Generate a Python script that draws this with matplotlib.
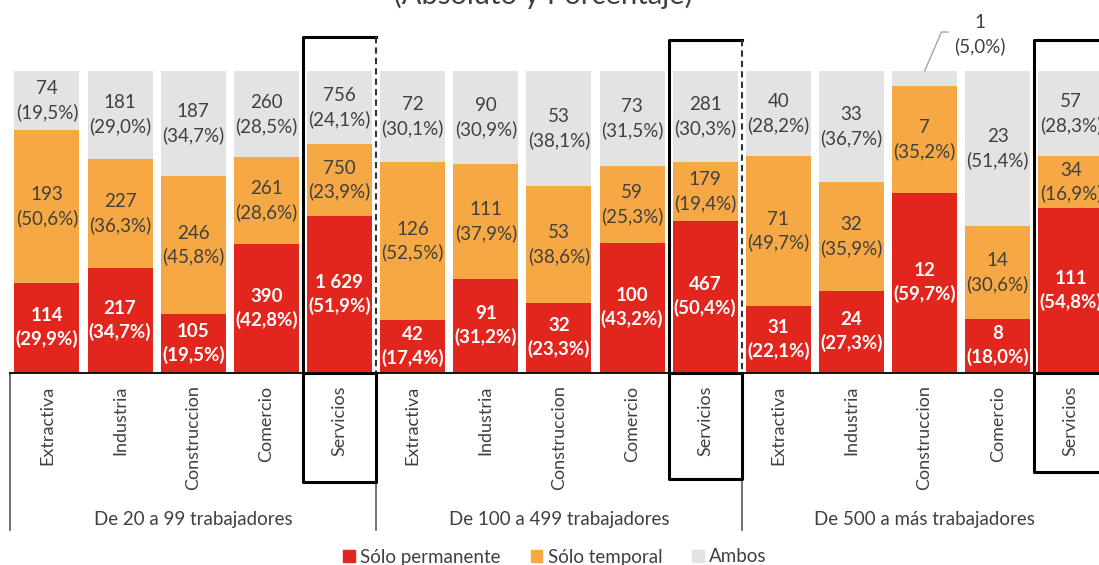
import matplotlib.pyplot as plt
import matplotlib.transforms as mtransforms
from matplotlib.patches import Patch
import numpy as np

plt.rcParams["font.family"] = ["Lato", "DejaVu Sans"]

# data
sectores = ["Extractiva", "Industria", "Construccion", "Comercio", "Servicios"]
grupos = ["De 20 a 99 trabajadores", "De 100 a 499 trabajadores", "De 500 a más trabajadores"]

perm_n = [114, 217, 105, 390, 1629, 42, 91, 32, 100, 467, 31, 24, 12, 8, 111]
perm_pct = [29.9, 34.7, 19.5, 42.8, 51.9, 17.4, 31.2, 23.3, 43.2, 50.4, 22.1, 27.3, 59.7, 18.0, 54.8]
temp_n = [193, 227, 246, 261, 750, 126, 111, 53, 59, 179, 71, 32, 7, 14, 34]
temp_pct = [50.6, 36.3, 45.8, 28.6, 23.9, 52.5, 37.9, 38.6, 25.3, 19.4, 49.7, 35.9, 35.2, 30.6, 16.9]
ambos_n = [74, 181, 187, 260, 756, 72, 90, 53, 73, 281, 40, 33, 1, 23, 57]
ambos_pct = [19.5, 29.0, 34.7, 28.5, 24.1, 30.1, 30.9, 38.1, 31.5, 30.3, 28.2, 36.7, 5.0, 51.4, 28.3]

c_perm = "#E2261E"
c_temp = "#F5A843"
c_ambos = "#E3E3E3"
c_text = "#404040"

W, H = 1099, 565


def fy(px):
    return 1 - px / H


def fmt_n(n):
    return f"{n:,}".replace(",", " ")


def fmt_p(p):
    return f"({p:.1f}%)".replace(".", ",")


fig = plt.figure(figsize=(W / 100, H / 100), dpi=100)
slot = 73.14
ax = fig.add_axes([10.35 / W, fy(373), 15 * slot / W, 302 / H])

x = np.arange(len(perm_n))
perm = np.array(perm_pct)
temp = np.array(temp_pct)
ambos = np.array(ambos_pct)
bw = 0.889
ax.bar(x, perm, bw, color=c_perm)
ax.bar(x, temp, bw, bottom=perm, color=c_temp)
ax.bar(x, ambos, bw, bottom=perm + temp, color=c_ambos)

ax.set_xlim(-0.5, len(x) - 0.5)
ax.set_ylim(0, 100)
for s in ["top", "right", "left"]:
    ax.spines[s].set_visible(False)
ax.spines["bottom"].set_color("black")
ax.spines["bottom"].set_linewidth(1.3)
ax.set_yticks([])
ax.set_xticks(x)
ax.set_xticklabels(sectores * 3, rotation=90, fontsize=13, color=c_text)
ax.tick_params(axis="x", length=0, pad=9)

# labels in segments
lab = dict(ha="center", va="center", fontsize=13.5, linespacing=1.4)
for i in x:
    ax.text(i, perm[i] / 2, fmt_n(perm_n[i]) + "\n" + fmt_p(perm_pct[i]),
            color="white", fontweight="bold", **lab)
    ax.text(i, perm[i] + temp[i] / 2, fmt_n(temp_n[i]) + "\n" + fmt_p(temp_pct[i]),
            color=c_text, **lab)
    if ambos[i] > 8:
        ax.text(i, perm[i] + temp[i] + ambos[i] / 2,
                fmt_n(ambos_n[i]) + "\n" + fmt_p(ambos_pct[i]), color=c_text, **lab)
    else:
        ax.plot([i, i + 0.23, i + 0.32], [100, 112.9, 112.9], color="#A6A6A6",
                lw=1, clip_on=False)
        ax.text(i + 0.76, 112.0, fmt_n(ambos_n[i]) + "\n" + fmt_p(ambos_pct[i]),
                color=c_text, **lab)

# group separators and labels
tr = mtransforms.blended_transform_factory(ax.transData, fig.transFigure)
for g in range(3):
    xl = g * 5 - 0.5
    ax.plot([xl, xl], [fy(373), fy(530)], transform=tr, color="#595959", lw=1.2,
            clip_on=False)
    ax.text(g * 5 + 2, fy(519), grupos[g], transform=tr, ha="center", va="center",
            fontsize=13.5, color=c_text)

# Servicios boxes
box_y = [(37, 482), (40, 479), (40, 472)]
for g, (yt, yb) in enumerate(box_y):
    xl, xr = g * 5 + 3.5, g * 5 + 4.5
    kw = dict(transform=tr, color="black", lw=2.2, clip_on=False, solid_capstyle="projecting")
    ax.plot([xr, xl, xl, xr, xr], [fy(373), fy(373), fy(yb), fy(yb), fy(373)], **kw)
    ax.plot([xl, xl, xr], [fy(373), fy(yt), fy(yt)], **kw)
    ax.plot([xr, xr], [fy(yt), fy(373)], transform=tr, color="#333333", lw=1.5,
            ls=(0, (3, 2)), clip_on=False)

# title (cut at the top)
fig.text(543 / W, fy(4), "(Absoluto y Porcentaje)", ha="center", va="baseline",
         fontsize=21, color=c_text)

handles = [Patch(color=c_perm), Patch(color=c_temp), Patch(color=c_ambos)]
fig.legend(handles, ["Sólo permanente", "Sólo temporal", "Ambos"], loc="center",
           bbox_to_anchor=(555 / W, fy(557)), ncol=3, frameon=False, fontsize=13.5,
           handlelength=0.6, handleheight=0.6, handletextpad=0.3, columnspacing=1.6,
           labelcolor=c_text)

fig.savefig("out.png", dpi=100)
